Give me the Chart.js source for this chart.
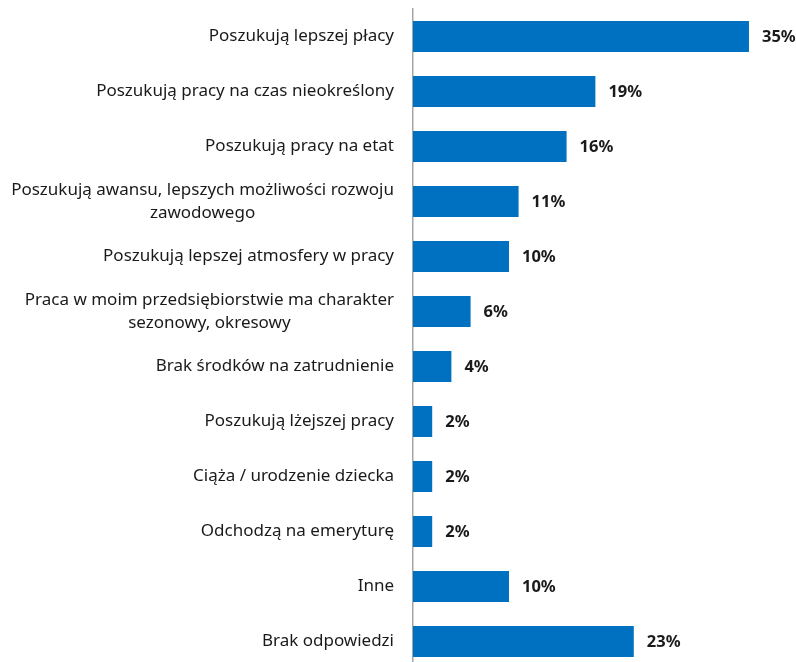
<!DOCTYPE html>
<html>
<head>
<meta charset="utf-8">
<script src="https://cdn.jsdelivr.net/npm/chart.js@4.4.1/dist/chart.umd.min.js"></script>
<style>
  html, body { margin: 0; padding: 0; background: #fff; overflow: hidden; }
  #wrap { position: relative; width: 796px; height: 670px; }
</style>
</head>
<body>
<div id="wrap"><canvas id="chart"></canvas></div>
<script>
const categories = [
  ["Poszukują lepszej płacy"],
  ["Poszukują pracy na czas nieokreślony"],
  ["Poszukują pracy na etat"],
  ["Poszukują awansu, lepszych możliwości rozwoju", "zawodowego"],
  ["Poszukują lepszej atmosfery w pracy"],
  ["Praca w moim przedsiębiorstwie ma charakter", "sezonowy, okresowy"],
  ["Brak środków na zatrudnienie"],
  ["Poszukują lżejszej pracy"],
  ["Ciąża / urodzenie dziecka"],
  ["Odchodzą na emeryturę"],
  ["Inne"],
  ["Brak odpowiedzi"],
];
const shares = [35, 19, 16, 11, 10, 6, 4, 2, 2, 2, 10, 23];

const labelFont = '17px "Noto Sans", sans-serif';
const valueFont = 'bold 16.5px "Noto Sans", sans-serif';

// category text on the left, lines centred on each other, block right-aligned
const categoryLabels = {
  id: "categoryLabels",
  afterDraw(chart) {
    const { ctx, scales } = chart;
    const yScale = scales.y;
    const right = chart.chartArea.left - 19;
    ctx.save();
    ctx.font = labelFont;
    ctx.fillStyle = "#1a1a1a";
    ctx.textBaseline = "middle";
    ctx.textAlign = "center";
    const lineH = 23;
    categories.forEach((lines, i) => {
      const y = yScale.getPixelForValue(i);
      const widest = Math.max(...lines.map((l) => ctx.measureText(l).width));
      const cx = right - widest / 2;
      const top = y - ((lines.length - 1) * lineH) / 2;
      lines.forEach((line, j) => ctx.fillText(line, cx, top + j * lineH));
    });
    ctx.restore();
  },
};

// percentage next to each bar end
const valueLabels = {
  id: "valueLabels",
  afterDatasetsDraw(chart) {
    const { ctx } = chart;
    const meta = chart.getDatasetMeta(0);
    ctx.save();
    ctx.font = valueFont;
    ctx.fillStyle = "#1a1a1a";
    ctx.textBaseline = "middle";
    ctx.textAlign = "left";
    meta.data.forEach((bar, i) => {
      ctx.fillText(shares[i] + "%", bar.x + 13, bar.y + 1);
    });
    ctx.restore();
  },
};

new Chart(document.getElementById("chart"), {
  type: "bar",
  data: {
    labels: categories.map((c) => c.join(" ")),
    datasets: [
      {
        data: shares,
        backgroundColor: "#0070c0",
        borderWidth: 0,
        barPercentage: 0.564,
        categoryPercentage: 1,
      },
    ],
  },
  options: {
    indexAxis: "y",
    responsive: true,
    maintainAspectRatio: false,
    animation: false,
    layout: { padding: { top: 9, right: 0, bottom: 1, left: 0 } },
    plugins: { legend: { display: false }, tooltip: { enabled: false } },
    scales: {
      x: {
        min: 0,
        max: 39.9,
        display: false,
      },
      y: {
        grid: { display: false, drawTicks: false },
        border: { display: true, color: "#a6a6a6", width: 1.5 },
        ticks: { display: false },
        afterFit(scale) {
          scale.width = 413;
        },
      },
    },
  },
  plugins: [categoryLabels, valueLabels],
});
</script>
</body>
</html>
